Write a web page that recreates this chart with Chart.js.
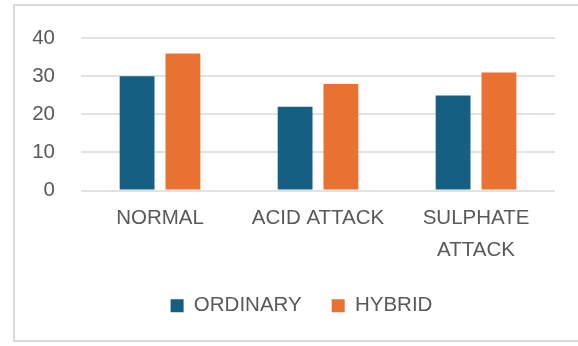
<!DOCTYPE html>
<html>
<head>
<meta charset="utf-8">
<script src="https://cdn.jsdelivr.net/npm/chart.js@4/dist/chart.umd.min.js"></script>
<style>
  html, body { margin: 0; padding: 0; background: #ffffff; overflow: hidden; }
  #wrap { position: relative; width: 578px; height: 346px; overflow: hidden; }
  #frame {
    position: absolute; left: 13px; top: 4px; width: 600px; height: 338px;
    border: 2px solid #dadada; box-sizing: border-box;
  }
  canvas { position: absolute; left: 0; top: 0; }
</style>
</head>
<body>
<div id="wrap">
  <div id="frame"></div>
  <canvas id="chart" width="578" height="346"></canvas>
</div>
<script>
// Exposure conditions and compressive results for the two mixes
const categories = [['NORMAL'], ['ACID ATTACK'], ['SULPHATE', 'ATTACK']];
const ordinary = [30, 22, 25];
const hybrid = [36, 28, 31];
const yTicks = [0, 10, 20, 30, 40];

const textColor = '#595959';
const fontFamily = '"Liberation Sans", Arial, sans-serif';

// Nudge the legend row to the right so it sits under the plot area
const legendShift = {
  id: 'legendShift',
  afterLayout(chart) {
    const lg = chart.legend;
    if (lg) { lg.left += 24; lg.right += 24; }
  }
};

new Chart(document.getElementById('chart'), {
  type: 'bar',
  data: {
    labels: categories,
    datasets: [
      { label: 'ORDINARY', data: ordinary, backgroundColor: '#156082' },
      { label: 'HYBRID', data: hybrid, backgroundColor: '#e97132' }
    ]
  },
  plugins: [legendShift],
  options: {
    responsive: false,
    animation: false,
    devicePixelRatio: 1,
    barPercentage: 0.76,
    categoryPercentage: 0.58,
    layout: { padding: { left: 0, right: 23, top: 34.5, bottom: 20 } },
    plugins: {
      tooltip: { enabled: false },
      legend: {
        position: 'bottom',
        labels: {
          color: textColor,
          font: { family: fontFamily, size: 20.5 },
          boxWidth: 13,
          boxHeight: 13,
          padding: 30
        }
      }
    },
    scales: {
      x: {
        grid: { display: false },
        border: { display: false },
        ticks: {
          color: textColor,
          font: { family: fontFamily, size: 20.5, lineHeight: 1.56 },
          padding: 4,
          maxRotation: 0,
          autoSkip: false
        },
        afterFit: (s) => { s.height = 75; }
      },
      y: {
        min: 0,
        max: 40,
        afterBuildTicks: (s) => { s.ticks = yTicks.map(v => ({ value: v })); },
        grid: { color: '#e2e2e2', lineWidth: 2, drawTicks: false },
        border: { display: false },
        ticks: {
          color: textColor,
          font: { family: fontFamily, size: 20.5 },
          padding: 26
        },
        afterFit: (s) => { s.width = 81; }
      }
    }
  }
});
</script>
</body>
</html>
